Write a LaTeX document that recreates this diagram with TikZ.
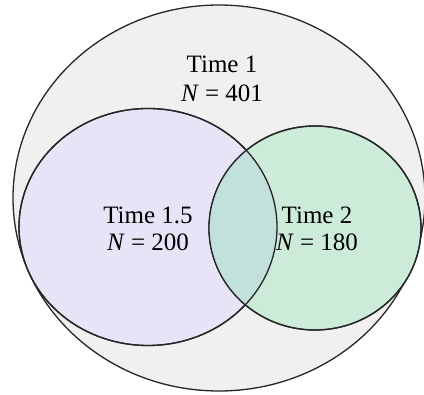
\documentclass[tikz,border=0pt]{standalone}
\usepackage{fontspec}
\setmainfont{Liberation Serif}
\usetikzlibrary{shapes.geometric}

\definecolor{timeone}{HTML}{F0F0F0}
\definecolor{timeonefive}{HTML}{E6E4F6}
\definecolor{timetwo}{HTML}{CCEBD9}
\definecolor{overlap}{HTML}{C2E0DC}

\tikzset{
  setbox/.style={ellipse,inner sep=0pt,line width=1.3pt,draw=black!85},
  setlabel/.style={align=center,font=\rmfamily\fontsize{25}{29}\selectfont}
}

\begin{document}
\begin{tikzpicture}[x=1pt,y=-1pt]
\useasboundingbox (0,0) rectangle (424,395);
% the three groups
\node[setbox,fill=timeone,minimum width=412pt,minimum height=386pt] (t1) at (219,198) {};
\node[setbox,fill=timeonefive,minimum width=258pt,minimum height=237pt] (t15) at (148,227) {};
\node[setbox,fill=timetwo,minimum width=212pt,minimum height=204pt] (t2) at (315,228) {};
% shared part of 1.5 and 2
\begin{scope}
  \clip (148,227) ellipse [x radius=129pt,y radius=118.5pt];
  \fill[overlap] (315,228) ellipse [x radius=106pt,y radius=102pt];
\end{scope}
\draw[line width=1.3pt,black!85] (148,227) ellipse [x radius=129pt,y radius=118.5pt];
\draw[line width=1.3pt,black!85] (315,228) ellipse [x radius=106pt,y radius=102pt];
% labels
\node[setlabel] (l1) at (222,79) {Time 1\\\textit{N} = 401};
\node[setlabel,font=\rmfamily\fontsize{25}{27}\selectfont] (l15) at (148,229) {Time 1.5\\\textit{N} = 200};
\node[setlabel,font=\rmfamily\fontsize{25}{27}\selectfont] (l2) at (317,229) {Time 2\\\textit{N} = 180};
\end{tikzpicture}
\end{document}
